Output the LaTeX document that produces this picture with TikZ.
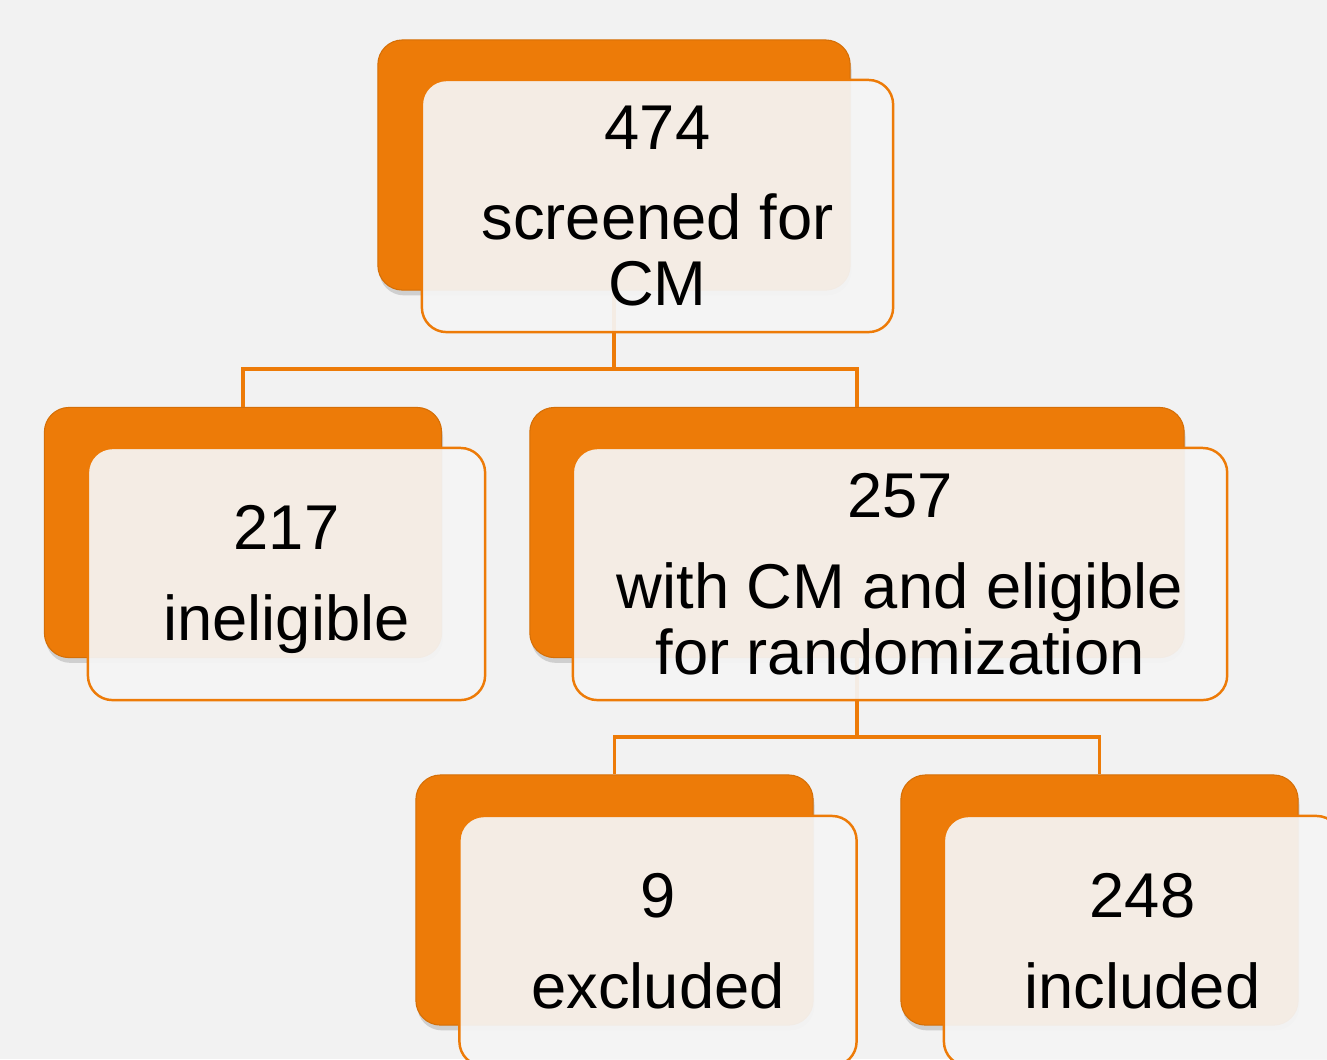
\documentclass[tikz,border=0pt]{standalone}
\usepackage{fontspec}
\setmainfont{Liberation Sans}
\usepackage{xcolor}
\usepackage{tikz}
\usetikzlibrary{positioning,shadows}
\definecolor{bggrey}{RGB}{242,242,242}
\definecolor{flowor}{RGB}{237,123,8}
\definecolor{cardfill}{RGB}{245,245,245}

\begin{document}
\begin{tikzpicture}[x=0.01cm,y=-0.01cm,
      back/.style={rounded corners=7pt,fill=flowor,draw=flowor!90!black,line width=0.3pt,
                   drop shadow={shadow xshift=0.4pt,shadow yshift=-1.5pt,opacity=0.3},
                   minimum width=3.97cm,minimum height=2.5cm},
      card/.style={rounded corners=7pt,fill=cardfill,fill opacity=0.93,text opacity=1,
                   draw=flowor,line width=0.7pt,align=center,
                   font=\fontsize{18}{18.8}\selectfont,
                   minimum width=3.97cm,minimum height=2.5cm},
      link/.style={draw=flowor,line width=1.1pt}]
    \useasboundingbox[fill=bggrey] (0,0) rectangle (1327,1059);
    % orange back plates
    \node[back,minimum width=4.72cm] (screenB) at (614,165) {};
    \node[back] (inelB) at (243,532.5) {};
    \node[back,minimum width=6.54cm] (eligB) at (857,532.5) {};
    \node[back] (exclB) at (614.5,900) {};
    \node[back] (inclB) at (1099.5,900) {};
    % connectors
    \draw[link] (screenB.south) -- ++(0,78) -| (inelB.north);
    \draw[link] (screenB.south) -- ++(0,78) -| (eligB.north);
    \draw[link] (eligB.south) -- ++(0,79) -| (exclB.north);
    \draw[link] (eligB.south) -- ++(0,79) -| (inclB.north);
    % front cards
    \node[card,minimum width=4.71cm,minimum height=2.52cm] (screen) at (657.5,206)
      {474\\[7pt]screened for\\CM};
    \node[card,minimum height=2.52cm] (inel) at (286.5,574)
      {\rule{0pt}{15.8pt}217\\[7pt]ineligible};
    \node[card,minimum width=6.54cm,minimum height=2.52cm] (elig) at (900,574)
      {257\\[7pt]with CM and eligible\\for randomization};
    \node[card] (excl) at (658,941) {9\\[7pt]excluded};
    \node[card] (incl) at (1142.5,941) {248\\[7pt]included};
  \end{tikzpicture}
\end{document}
